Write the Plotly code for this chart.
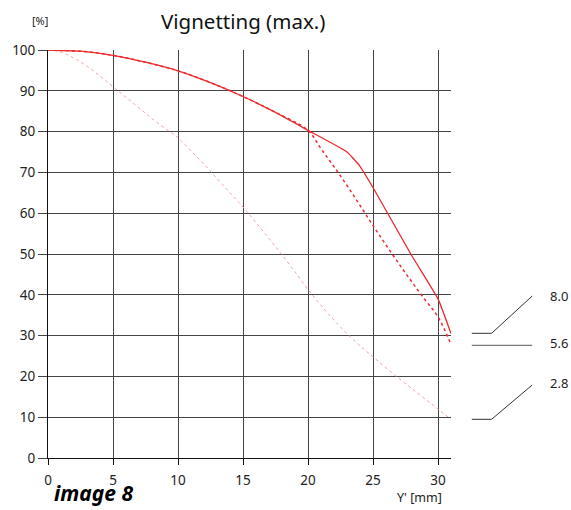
import plotly.graph_objects as go

# ---- data ----
x_80 = [0, 2.5, 5, 7.5, 10, 12.5, 15, 17.5, 20, 23, 24, 25, 28, 30, 31]
y_80 = [100, 99.7, 98.7, 97.0, 94.9, 92.0, 88.6, 84.7, 80.3, 75.0, 71.5, 66.3, 49.5, 39.0, 30.5]

x_56 = [0, 2.5, 5, 7.5, 10, 12.5, 15, 17.5, 20, 21, 22, 23, 24, 25, 26, 27, 28, 29, 30, 31]
y_56 = [100, 99.7, 98.7, 97.0, 94.9, 92.0, 88.6, 84.7, 80.3, 75.8, 71.4, 66.8, 61.9, 57.0, 52.2, 47.6, 43.1, 38.8, 34.6, 27.8]

x_28 = list(range(0, 32))
y_28 = [100, 99.5, 98.0, 96.0, 93.6, 91.0, 88.4, 85.8, 83.2, 80.8, 78.5,
        75.3, 72.0, 68.5, 65.0, 61.5, 57.7, 53.8, 49.8, 45.6, 41.3,
        37.4, 33.8, 30.5, 27.5, 24.8, 22.1, 19.5, 17.0, 14.5, 12.0, 9.5]

x_ticks = [0, 5, 10, 15, 20, 25, 30]
y_ticks = [0, 10, 20, 30, 40, 50, 60, 70, 80, 90, 100]
aperture_labels = ["8.0", "5.6", "2.8"]

# ---- layout geometry (pixels) ----
W, H = 571, 510
L, R, T, B = 44, 120, 50, 52
PW, PH = W - L - R, H - T - B


def px(xp):
    return (xp - L) / PW


def py(yp):
    return (H - B - yp) / PH


FONT = "Noto Sans"
TXT = "#222222"
GRID = "#444444"

fig = go.Figure()
fig.add_trace(go.Scatter(x=x_28, y=y_28, mode="lines", line=dict(color="#f5a3a3", width=1, dash="dot"),
                         line_shape="spline", showlegend=False, hoverinfo="skip"))
fig.add_trace(go.Scatter(x=x_56, y=y_56, mode="lines", line=dict(color="#ee2a2f", width=1.5, dash="dot"),
                         line_shape="spline", showlegend=False, hoverinfo="skip"))
fig.add_trace(go.Scatter(x=x_80, y=y_80, mode="lines", line=dict(color="#ee2a2f", width=1.3),
                         line_shape="spline", line_smoothing=0.4, showlegend=False, hoverinfo="skip"))

shapes = []
lc = dict(color="#333333", width=1)
# 8.0 marker
shapes.append(dict(type="path", xref="paper", yref="paper",
                   path=f"M {px(472)},{py(333.3)} L {px(492)},{py(333.3)} L {px(533)},{py(296)}",
                   line=lc))
# 5.6 marker
shapes.append(dict(type="line", xref="paper", yref="paper",
                   x0=px(472), y0=py(345.3), x1=px(533), y1=py(345.3), line=dict(color="#555555", width=1)))
# 2.8 marker
shapes.append(dict(type="path", xref="paper", yref="paper",
                   path=f"M {px(472)},{py(419.3)} L {px(492)},{py(419.3)} L {px(533)},{py(385)}",
                   line=lc))

annotations = []
for lab, yy in zip(aperture_labels, [296, 343, 383]):
    annotations.append(dict(text=lab, xref="paper", yref="paper", x=px(549), y=py(yy),
                            xanchor="left", yanchor="middle", showarrow=False,
                            font=dict(family=FONT, size=13, color=TXT)))
annotations.append(dict(text="Vignetting (max.)", xref="paper", yref="paper", x=px(241), y=py(21),
                        xanchor="center", yanchor="middle", showarrow=False,
                        font=dict(family=FONT, size=20.5, color="#111111")))
annotations.append(dict(text="[%]", xref="paper", yref="paper", x=px(36), y=py(20),
                        xanchor="center", yanchor="middle", showarrow=False,
                        font=dict(family=FONT, size=11, color=TXT)))
annotations.append(dict(text="Y' [mm]", xref="paper", yref="paper", x=px(444), y=py(497),
                        xanchor="right", yanchor="middle", showarrow=False,
                        font=dict(family=FONT, size=12.5, color=TXT)))
annotations.append(dict(text="<b><i>image 8</i></b>", xref="paper", yref="paper", x=px(48), y=py(509),
                        xanchor="left", yanchor="bottom", showarrow=False,
                        font=dict(family=FONT, size=21, color="#000000")))

fig.update_layout(
    width=W, height=H, margin=dict(l=L, r=R, t=T, b=B, pad=0),
    paper_bgcolor="white", plot_bgcolor="white",
    shapes=shapes, annotations=annotations,
    xaxis=dict(range=[0, 31], tickvals=x_ticks, ticktext=[str(v) for v in x_ticks],
               showgrid=True, gridcolor=GRID, gridwidth=1, zeroline=False,
               showline=True, linecolor="#111111", linewidth=1,
               ticks="outside", ticklen=6, tickcolor="#111111", ticklabelstandoff=4,
               tickfont=dict(family=FONT, size=13.5, color=TXT)),
    yaxis=dict(range=[0, 100], tickvals=y_ticks, ticktext=[str(v) for v in y_ticks],
               showgrid=True, gridcolor=GRID, gridwidth=1, zeroline=False,
               showline=True, linecolor="#111111", linewidth=1,
               ticks="outside", ticklen=9, tickcolor="#444444",
               tickfont=dict(family=FONT, size=13.5, color=TXT)),
)

fig.write_html("out.html")
